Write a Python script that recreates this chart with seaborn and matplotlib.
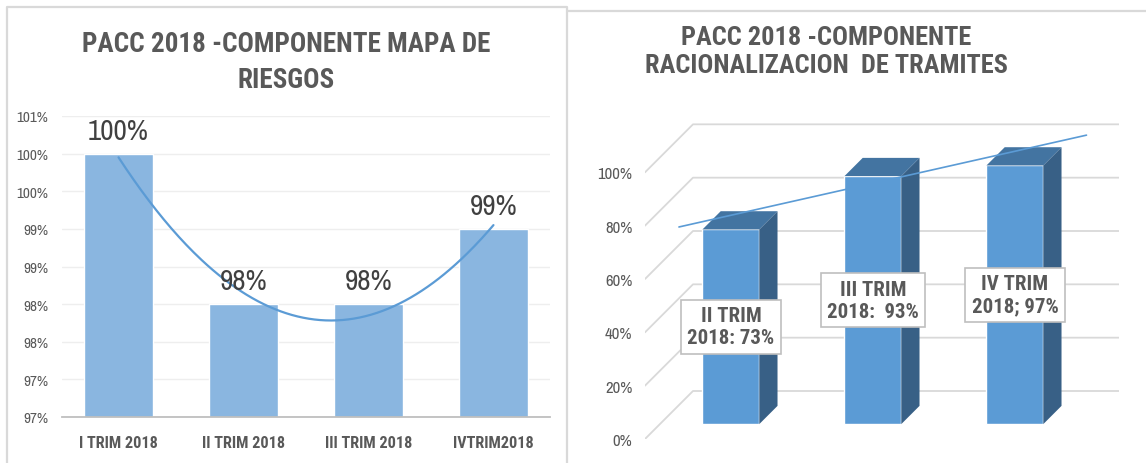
import numpy as np
import matplotlib
matplotlib.use("Agg")
import matplotlib.pyplot as plt
import seaborn as sns
from matplotlib.lines import Line2D
from matplotlib.patches import Polygon
from matplotlib.ticker import FuncFormatter

# left chart: mapa de riesgos
riesgos_cats = ["I TRIM 2018", "II TRIM 2018", "III TRIM 2018", "IVTRIM2018"]
riesgos_vals = [100, 98, 98, 99]
riesgos_ticks = [96.5, 97.0, 97.5, 98.0, 98.5, 99.0, 99.5, 100.0, 100.5]

# right chart: racionalizacion de tramites
tramites_cats = ["II TRIM", "III TRIM", "IV TRIM"]
tramites_vals = [73, 93, 97]
tramites_labels = ["II TRIM\n2018: 73%", "III TRIM\n2018:  93%", "IV TRIM\n2018; 97%"]
tramites_ticks = [0, 20, 40, 60, 80, 100]

GRAY = "#595959"
W, H = 1146, 464
BOLD = ["Roboto Condensed", "PT Sans Narrow", "DejaVu Sans"]

sns.set_theme(style="white")
plt.rcParams["font.family"] = ["Archivo Narrow", "Liberation Sans", "DejaVu Sans"]


def box(x0, y0, x1, y1):
    return [x0 / W, 1 - y1 / H, (x1 - x0) / W, (y1 - y0) / H]


def pct_round(v, _):
    # excel style rounding (half up)
    return f"{int(np.floor(v + 0.5 + 1e-9))}%"


fig = plt.figure(figsize=(W / 100, H / 100), dpi=100)

# ---------- left ----------
ax1 = fig.add_axes(box(62, 117, 550, 418))
sns.barplot(x=riesgos_cats, y=riesgos_vals, color="#8AB6E0", saturation=1,
            width=0.55, ax=ax1, zorder=2)
ax1.set_ylim(96.5, 100.5)
ax1.set_yticks(riesgos_ticks)
ax1.yaxis.set_major_formatter(FuncFormatter(pct_round))
ax1.grid(axis="y", color="#EEEEEE", lw=1)
ax1.set_axisbelow(True)
for s in ["top", "right", "left"]:
    ax1.spines[s].set_visible(False)
ax1.spines["bottom"].set_color("#BFBFBF")
ax1.spines["bottom"].set_linewidth(1.3)
ax1.tick_params(axis="y", length=0, pad=10, labelsize=11, labelcolor=GRAY)
ax1.tick_params(axis="x", length=0, pad=13, labelsize=11.7, labelcolor=GRAY)
for t in ax1.get_xticklabels():
    t.set_fontweight("bold")
    t.set_family(BOLD)
ax1.set_xlabel("")
ax1.set_ylabel("")

xs = np.arange(1, len(riesgos_vals) + 1)
coef = np.polyfit(xs, riesgos_vals, 2)
xx = np.linspace(1, len(riesgos_vals), 200)
ax1.plot(xx - 1, np.polyval(coef, xx), color="#5B9BD5", lw=1.6, zorder=3)

ax1.bar_label(ax1.containers[0], labels=[pct_round(v, None) for v in riesgos_vals],
              padding=7, fontsize=21, color="#404040")

fig.text(286 / W, 1 - 62.5 / H, "PACC 2018 -COMPONENTE MAPA DE\nRIESGOS",
         ha="center", va="center", fontsize=19.5, fontweight="bold", color=GRAY,
         linespacing=1.4, family=BOLD)

# ---------- right (pseudo 3d) ----------
DX, DY = 0.338, 18.0      # full depth offset in data units
D_FRONT, D_BACK = 0.31, 0.69
BW = 0.4

ax2 = fig.add_axes(box(645, 100, 1119, 440))
ax2.set_xlim(0.5, 3.838)
ax2.set_ylim(0, 127.5)

n = len(tramites_vals)
for v in tramites_ticks:
    ax2.plot([0.5, 0.5 + DX, n + 0.5 + DX], [v, v + DY, v + DY],
             color="#D9D9D9", lw=1.3, zorder=0)

pos = np.arange(1, n + 1)
fx, fy = DX * D_FRONT, DY * D_FRONT
bx, by = DX * D_BACK, DY * D_BACK
ax2.bar(pos + fx, tramites_vals, width=BW, bottom=fy, color="#5B9BD5", zorder=3)
for c, v in zip(pos, tramites_vals):
    r, l = c + BW / 2, c - BW / 2
    side = [(r + fx, fy), (r + bx, by), (r + bx, v + by), (r + fx, v + fy)]
    top = [(l + fx, v + fy), (l + bx, v + by), (r + bx, v + by), (r + fx, v + fy)]
    ax2.add_patch(Polygon(side, closed=True, fc="#386086", ec="none", zorder=3))
    ax2.add_patch(Polygon(top, closed=True, fc="#4374A1", ec="none", zorder=3))

# linear trendline at mid depth
lin = np.polyfit(pos, tramites_vals, 1)
tx = np.array([0.57, 3.44])
ax2.plot(tx + DX * 0.5, np.polyval(lin, tx) + DY * 0.5, color="#5B9BD5", lw=1.2, zorder=4)

for c, v, lab in zip(pos, tramites_vals, tramites_labels):
    ax2.text(c + fx, v / 2 + fy, lab, ha="center", va="center", fontsize=15,
             fontweight="bold", color=GRAY, zorder=5, linespacing=1.2, family=BOLD,
             bbox=dict(boxstyle="square,pad=0.3", fc="white", ec="#BFBFBF", lw=1.2))

ax2.set_yticks(tramites_ticks)
ax2.yaxis.set_major_formatter(FuncFormatter(lambda v, _: f"{int(v)}%"))
ax2.set_xticks([])
for s in ax2.spines.values():
    s.set_visible(False)
ax2.tick_params(axis="y", length=0, pad=9, labelsize=12, labelcolor=GRAY)

fig.text(826 / W, 1 - 52 / H, "PACC 2018 -COMPONENTE\nRACIONALIZACION  DE TRAMITES",
         ha="center", va="center", fontsize=19, fontweight="bold", color=GRAY,
         linespacing=1.2, family=BOLD)

# chart frames
frame = "#D9D9D9"
fig.add_artist(Line2D([7 / W, 7 / W, 567 / W, 567 / W], [0, 1 - 8 / H, 1 - 8 / H, 0],
                      color=frame, lw=1.6))
fig.add_artist(Line2D([568 / W, 1], [1 - 12 / H, 1 - 12 / H], color=frame, lw=1.6))

fig.savefig("out.png", dpi=100)
